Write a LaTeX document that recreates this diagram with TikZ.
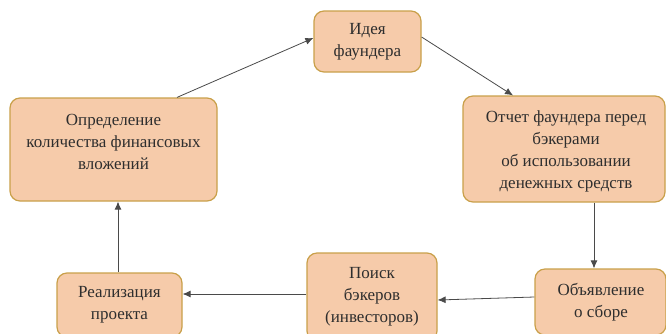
\documentclass[tikz,border=0pt]{standalone}
\usepackage{fontspec}
\setmainfont{Liberation Serif}
\usetikzlibrary{arrows.meta}
\definecolor{boxfill}{HTML}{F6CBAA}
\definecolor{boxline}{HTML}{C9A04A}
\definecolor{txt}{HTML}{2E2E2E}
\definecolor{arr}{HTML}{4A4A4A}
\tikzset{
  box/.style={draw=boxline, fill=boxfill, line width=1.2pt, rounded corners=10pt, inner sep=0pt},
  lbl/.style={align=center, text=txt, font=\fontsize{17pt}{22pt}\selectfont, inner sep=0pt},
  conn/.style={draw=arr, line width=0.8pt, -{Latex[length=8pt,width=7pt]}}
}
\begin{document}
\begin{tikzpicture}[x=1pt,y=-1pt]
\useasboundingbox (0,0) rectangle (666,333);
\clip (0,0) rectangle (666,333);
\node[box, minimum width=107pt, minimum height=61pt] (idea) at (367.5,41.5) {};
\node[box, minimum width=202pt, minimum height=106pt] (otchet) at (564,149) {};
\node[box, minimum width=207pt, minimum height=103pt] (opred) at (113.5,149.5) {};
\node[box, minimum width=125pt, minimum height=64pt] (real) at (119.5,305) {};
\node[box, minimum width=130pt, minimum height=88pt] (poisk) at (372,297) {};
\node[box, minimum width=131pt, minimum height=66pt] (obyav) at (600.5,302) {};

\node[lbl] (tidea) at (367.5,41.5) {Идея\\фаундера};
\node[lbl] (totchet) at (566,151) {Отчет фаундера перед\\бэкерами\\об использовании\\денежных средств};
\node[lbl] (topred) at (113.5,142) {Определение\\количества финансовых\\вложений};
\node[lbl] (treal) at (119.5,305) {Реализация\\проекта};
\node[lbl] (tpoisk) at (372,297) {Поиск\\бэкеров\\(инвесторов)};
\node[lbl] (tobyav) at (601,302) {Объявление\\о сборе};

\draw[conn] ([xshift=63.5pt]opred.north) -- ([yshift=3.5pt]idea.west);
\draw[conn] ([yshift=4.5pt]idea.east) -- ([xshift=-51pt]otchet.north);
\draw[conn] ([xshift=30pt]otchet.south) -- ([xshift=-6.5pt]obyav.north);
\draw[conn] ([yshift=5pt]obyav.west) -- ([yshift=-3pt]poisk.east);
\draw[conn] ([yshift=3pt]poisk.west) -- ([yshift=11pt]real.east);
\draw[conn] ([xshift=-1.5pt]real.north) -- ([xshift=4.5pt]opred.south);
\end{tikzpicture}
\end{document}
